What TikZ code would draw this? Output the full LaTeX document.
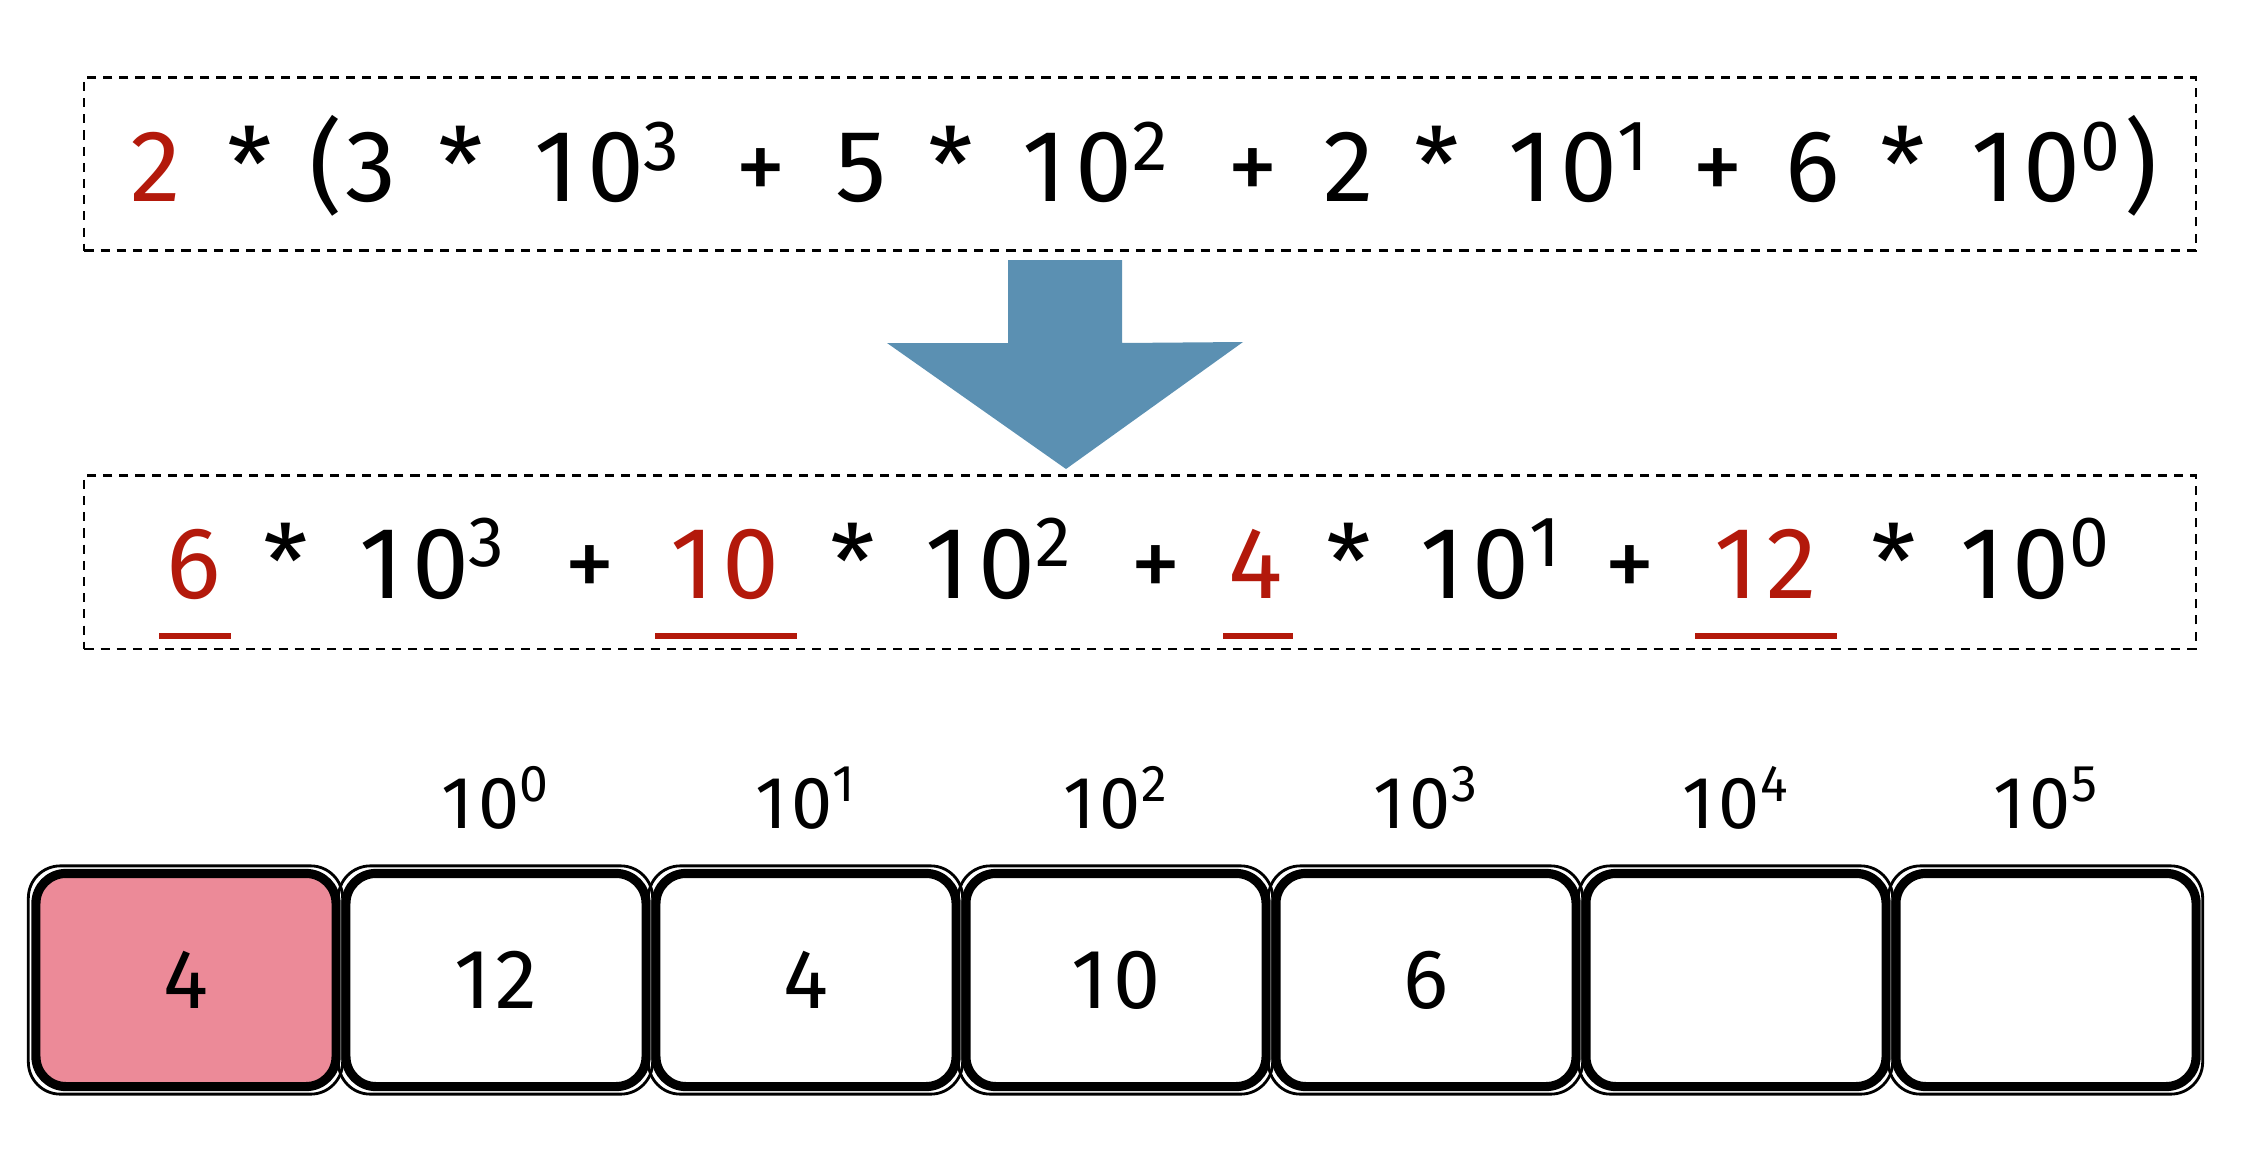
\documentclass[tikz,border=0pt]{standalone}
\usepackage{fontspec}
\setmainfont{Fira Sans}
\usetikzlibrary{positioning}
\definecolor{termred}{HTML}{B3190B}
\definecolor{arrowblue}{HTML}{5B90B2}
\definecolor{cellpink}{HTML}{EC8A98}
\newcommand{\tpow}[1]{10\textsuperscript{#1}}

\begin{document}
\begin{tikzpicture}[x=0.01cm,y=-0.01cm,
  formbox/.style={draw,dash pattern=on 2.6pt off 2pt,line width=0.6pt,minimum width=21.1cm,minimum height=1.73cm,inner sep=0},
  term/.style={anchor=base,inner sep=0,font=\fontsize{29}{34}\selectfont\addfontfeatures{LetterSpace=8}},
  cell/.style={draw,line width=2.6pt,rounded corners=0.3cm,minimum width=3cm,minimum height=2.13cm,inner sep=0,font=\fontsize{24}{28}\selectfont\addfontfeatures{LetterSpace=6}},
  power/.style={anchor=base,inner sep=0,font=\fontsize{21}{25}\selectfont\addfontfeatures{LetterSpace=6}}]
  \useasboundingbox (0,0) rectangle (2264,1176);
  % the two dashed frames
  \node[formbox] (top) at (1140,164) {};
  \node[formbox] (bottom) at (1140,562) {};
  % first line
  \foreach \x/\t/\c [count=\k] in {156/2/termred, 250/*/black, 326/{(}/black, 371/3/black, 461/*/black,
      608/\tpow{3}/black, 761/+/black, 861/5/black, 951/*/black, 1096/\tpow{2}/black, 1253/+/black,
      1349/2/black, 1437/*/black, 1579/\tpow{1}/black, 1718/+/black, 1813/6/black, 1903/*/black,
      2047/\tpow{0}/black, 2141/{)}/black}
    \node[term,text=\c] (a\k) at (\x,202) {\t};
  % arrow
  \fill[arrowblue] (1008,260) -- (1122,260) -- (1122,343) -- (1243,342) -- (1066,469) -- (887,343) -- (1008,343) -- cycle;
  % second line
  \foreach \x/\t/\c [count=\k] in {194/6/termred, 286/*/black, 433/\tpow{3}/black, 590/+/black,
      725/10/termred, 853/*/black, 999/\tpow{2}/black, 1156/+/black, 1256/4/termred, 1349/*/black,
      1491/\tpow{1}/black, 1630/+/black, 1766/12/termred, 1894/*/black, 2036/\tpow{0}/black}
    \node[term,text=\c] (b\k) at (\x,598) {\t};
  \foreach \l/\r in {159/231, 655/797, 1223/1293, 1695/1837}
    \draw[termred,line width=1.6pt] (\l,636) -- (\r,636);
  % cells
  \foreach \i/\v/\f in {0/4/cellpink, 1/12/white, 2/4/white, 3/10/white, 4/6/white, 5/{}/white, 6/{}/white}{
    \node[cell,fill=\f] (c\i) at ({186+310*\i},980) {\v};
    \draw[line width=0.8pt,rounded corners=0.32cm] ([shift={(-3,-3)}]c\i.north west) rectangle ([shift={(2,3)}]c\i.south east);
  }
  \foreach \i in {0,...,5}
    \node[power] (p\i) at ({496+310*\i},828) {\tpow{\i}};
\end{tikzpicture}
\end{document}
